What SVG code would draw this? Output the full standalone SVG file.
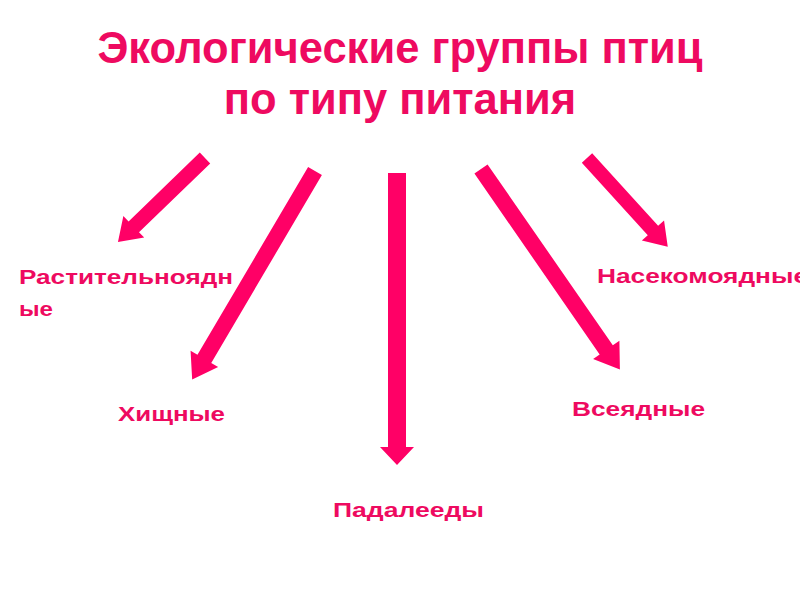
<svg xmlns="http://www.w3.org/2000/svg" width="800" height="600" viewBox="0 0 800 600">
<style>
.t{font-family:"Liberation Sans",Arial,sans-serif;font-weight:bold;fill:#EE0A60}
.title{font-size:43.5px}
.lbl{font-size:20.5px}
.arr{fill:#FF0066}
</style>
<rect width="800" height="600" fill="#fff"/>
<g id="title">
<text class="t title" x="400" y="63" text-anchor="middle">Экологические группы птиц</text>
<text class="t title" x="400" y="114" text-anchor="middle">по типу питания</text>
</g>
<g id="connectors">
<polygon class="arr" transform="translate(205,158) rotate(136)" points="0,-7.5 99,-7.5 99,-15 121,0 99,15 99,7.5 0,7.5"/>
<polygon class="arr" transform="translate(315,171) rotate(120.5)" points="0,-8 218,-8 218,-16 242,0 218,16 218,8 0,8"/>
<polygon class="arr" transform="translate(397,173) rotate(90)" points="0,-9 274,-9 274,-17 292,0 274,17 274,9 0,9"/>
<polygon class="arr" transform="translate(481,169) rotate(55.3)" points="0,-8 220,-8 220,-16 244,0 220,16 220,8 0,8"/>
<polygon class="arr" transform="translate(587,158) rotate(47.7)" points="0,-7 98,-7 98,-15 120,0 98,15 98,7 0,7"/>
</g>
<g id="node-herbivores"><text class="t lbl" x="19" y="284" textLength="214" lengthAdjust="spacingAndGlyphs">Растительноядн</text><text class="t lbl" x="19" y="316" textLength="34" lengthAdjust="spacingAndGlyphs">ые</text></g>
<g id="node-predators"><text class="t lbl" x="118" y="421" textLength="107" lengthAdjust="spacingAndGlyphs">Хищные</text></g>
<g id="node-scavengers"><text class="t lbl" x="333" y="517" textLength="151" lengthAdjust="spacingAndGlyphs">Падалееды</text></g>
<g id="node-omnivores"><text class="t lbl" x="572" y="416" textLength="133" lengthAdjust="spacingAndGlyphs">Всеядные</text></g>
<g id="node-insectivores"><text class="t lbl" x="597" y="283" textLength="211" lengthAdjust="spacingAndGlyphs">Насекомоядные</text></g>
</svg>
